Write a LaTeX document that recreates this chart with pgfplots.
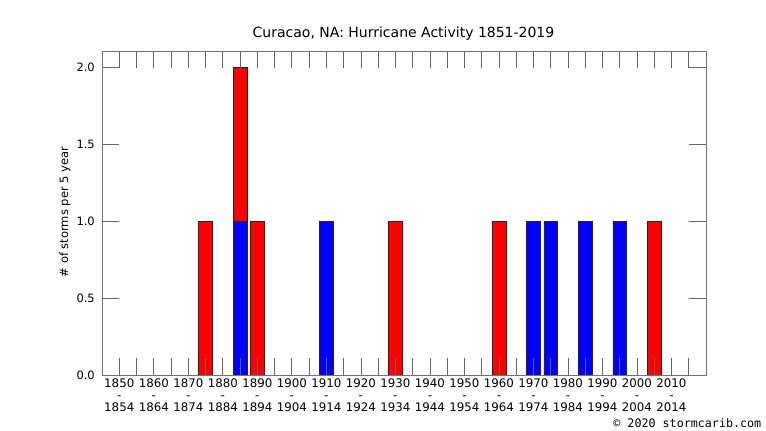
\documentclass[border=0pt]{standalone}
\usepackage{fontspec}
\setmainfont{DejaVu Sans}
\setmonofont{DejaVu Sans Mono}
\usepackage{pgfplots}
\pgfplotsset{compat=1.18}
\begin{document}
\begin{tikzpicture}[x=1pt,y=1pt]
\useasboundingbox (0,0) rectangle (766,431);
\begin{axis}[
  at={(102pt,56pt)}, anchor=south west,
  scale only axis, width=604pt, height=324pt,
  xmin=1845, xmax=2020, ymin=0, ymax=2.104,
  ybar stacked, bar width=13.8pt,
  axis on top,
  axis line style={black!55, line width=0.8pt},
  every tick/.style={black!60, line width=0.7pt},
  major tick length=17pt, minor tick length=17pt,
  xtick={1850,1860,...,2010},
  minor xtick={1855,1865,...,2015},
  xticklabels={{1850\\-\\1854},{1860\\-\\1864},{1870\\-\\1874},{1880\\-\\1884},{1890\\-\\1894},{1900\\-\\1904},{1910\\-\\1914},{1920\\-\\1924},{1930\\-\\1934},{1940\\-\\1944},{1950\\-\\1954},{1960\\-\\1964},{1970\\-\\1974},{1980\\-\\1984},{1990\\-\\1994},{2000\\-\\2004},{2010\\-\\2014}},
  xticklabel style={align=center, inner sep=0pt, yshift=-3.5pt, font=\fontsize{11.8}{11.8}\selectfont},
  ytick={0,0.5,1,1.5,2},
  /pgf/number format/fixed, /pgf/number format/fixed zerofill, /pgf/number format/precision=1,
  /pgf/number format/assume math mode=true,
  yticklabel style={inner sep=0pt, xshift=-7pt, font=\fontsize{11.5}{11.5}\selectfont},
]
\addplot[fill=blue, draw=black!85, line width=0.5pt] coordinates {
 (1875,0) (1885,1) (1890,0) (1910,1) (1930,0) (1960,0) (1970,1) (1975,1) (1985,1) (1995,1) (2005,0)};
\addplot[fill=red, draw=black!85, line width=0.5pt] coordinates {
 (1875,1) (1885,1) (1890,1) (1910,0) (1930,1) (1960,1) (1970,0) (1975,0) (1985,0) (1995,0) (2005,1)};
\end{axis}
\node[font=\fontsize{14}{14}\selectfont, anchor=base] at (403.5,393) {Curacao, NA: Hurricane Activity 1851-2019};
\node[rotate=90, font=\fontsize{11.5}{11.5}\selectfont] at (65,219) {\# of storms per 5 year};
\node[anchor=base east, inner sep=0pt, font=\ttfamily\fontsize{11.7}{11.7}\selectfont] at (761.5,3.5) {© 2020 stormcarib.com};
\end{tikzpicture}
\end{document}
